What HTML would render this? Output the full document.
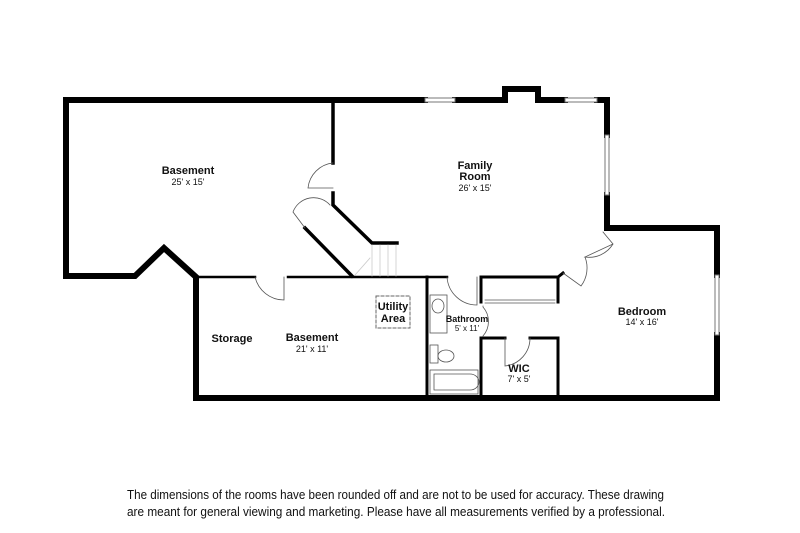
<!DOCTYPE html>
<html><head><style>
html,body{margin:0;padding:0;background:#fff;}
svg{display:block;}
text{font-family:"Liberation Sans",Arial,sans-serif;fill:#111;}
.b{font-weight:bold;font-size:11px;}
.s{font-size:9px;}
</style></head><body>
<svg width="800" height="533" viewBox="0 0 800 533" xmlns="http://www.w3.org/2000/svg">
<rect width="800" height="533" fill="#fff"/>
<g fill="none" stroke="#000" stroke-linejoin="miter" stroke-linecap="square">
<polyline stroke-width="6" points="425,100 66,100 66,276 135,276 164,248 196,277 196,398"/>
<polyline stroke-width="6" points="455,100 505,100 505,89 538,89 538,100 565,100"/>
<polyline stroke-width="6" points="597,100 607,100 607,135"/>
<polyline stroke-width="6" points="607,195 607,228 717,228 717,275"/>
<polyline stroke-width="6" points="717,335 717,398 196,398"/>
<polyline stroke-width="3.5" points="333,100 333,163"/>
<polyline stroke-width="3.5" points="333,193 333,205 372,243 397,243"/>
<polyline stroke-width="3.5" points="305,228 352,276"/>
<polyline stroke-width="2.5" points="197,277 255,277"/>
<polyline stroke-width="2.5" points="288,277 447,277"/>
<polyline stroke-width="3" points="427,277 427,398"/>
<polyline stroke-width="3" points="481,277 558,277 558,302"/>
<polyline stroke-width="3" points="481,277 481,302"/>
<polyline stroke-width="3" points="481,338 481,398"/>
<polyline stroke-width="3" points="481,338 505,338"/>
<polyline stroke-width="3" points="530,338 558,338 558,398"/>
<polyline stroke-width="3" points="558,277 563,273"/>
<g stroke="#777" stroke-width="1">
<rect x="425" y="98" width="30" height="4" fill="#fff"/>
<rect x="565" y="98" width="32" height="4" fill="#fff"/>
<rect x="605" y="135" width="4" height="60" fill="#fff"/>
<rect x="715" y="275" width="4" height="60" fill="#fff"/>
</g>
<g stroke="#555" stroke-width="0.8">
<path d="M333,163 A28,28 0 0 0 308,188 L333,188"/>
<path d="M305,228 L293,212 A22,22 0 0 1 330,205"/>
<path d="M255,277 A30,30 0 0 0 284,300 L284,277"/>
<path d="M447,277 A30,30 0 0 0 477,305 L477,277"/>
<path d="M483,306 L483,307 A22,22 0 0 1 483,336"/>
<path d="M505,338 L505,366 A28,28 0 0 0 530,338"/>
<path d="M603,232 L613,244 L585,257 A28,28 0 0 0 613,244"/>
<path d="M563,273 L581,286 A30,30 0 0 0 585,257"/>
<line x1="485" y1="300" x2="555" y2="300"/>
<line x1="485" y1="303" x2="555" y2="303"/>
<g stroke="#ccc"><line x1="372" y1="245" x2="372" y2="276"/><line x1="380" y1="245" x2="380" y2="276"/><line x1="388" y1="245" x2="388" y2="276"/><line x1="396" y1="245" x2="396" y2="276"/><path d="M355,275 L370,258"/></g>
<rect x="430" y="295" width="17" height="38"/>
<ellipse cx="438" cy="306" rx="6" ry="7"/>
<rect x="430" y="345" width="8" height="18"/>
<ellipse cx="446" cy="356" rx="8" ry="6"/>
<rect x="430" y="370" width="48" height="24"/>
<path d="M434,374 L470,374 A9,8 0 0 1 470,390 L434,390 Z"/>
</g>
<rect x="376" y="296" width="34" height="32" stroke="#666" stroke-width="1" stroke-dasharray="3,2"/>
</g>
<text class="b" x="188" y="174" text-anchor="middle">Basement</text>
<text class="s" x="188" y="185" text-anchor="middle">25' x 15'</text>
<text class="b" x="475" y="169" text-anchor="middle">Family</text>
<text class="b" x="475" y="180" text-anchor="middle">Room</text>
<text class="s" x="475" y="191" text-anchor="middle">26' x 15'</text>
<text class="b" x="312" y="341" text-anchor="middle">Basement</text>
<text class="s" x="312" y="352" text-anchor="middle">21' x 11'</text>
<text class="b" x="232" y="342" text-anchor="middle">Storage</text>
<text class="b" x="393" y="310" text-anchor="middle">Utility</text>
<text class="b" x="393" y="322" text-anchor="middle">Area</text>
<text x="467" y="322" text-anchor="middle" style="font-weight:bold;font-size:9px">Bathroom</text>
<text class="s" x="467" y="331" text-anchor="middle" style="font-size:8px">5' x 11'</text>
<text class="b" x="519" y="372" text-anchor="middle">WIC</text>
<text class="s" x="519" y="382" text-anchor="middle">7' x 5'</text>
<text class="b" x="642" y="315" text-anchor="middle">Bedroom</text>
<text class="s" x="642" y="325" text-anchor="middle">14' x 16'</text>
<text x="127" y="499" style="font-size:12.5px" textLength="537" lengthAdjust="spacingAndGlyphs">The dimensions of the rooms have been rounded off and are not to be used for accuracy. These drawing</text>
<text x="127" y="516" style="font-size:12.5px" textLength="538" lengthAdjust="spacingAndGlyphs">are meant for general viewing and marketing. Please have all measurements verified by a professional.</text>
</svg>
</body></html>
